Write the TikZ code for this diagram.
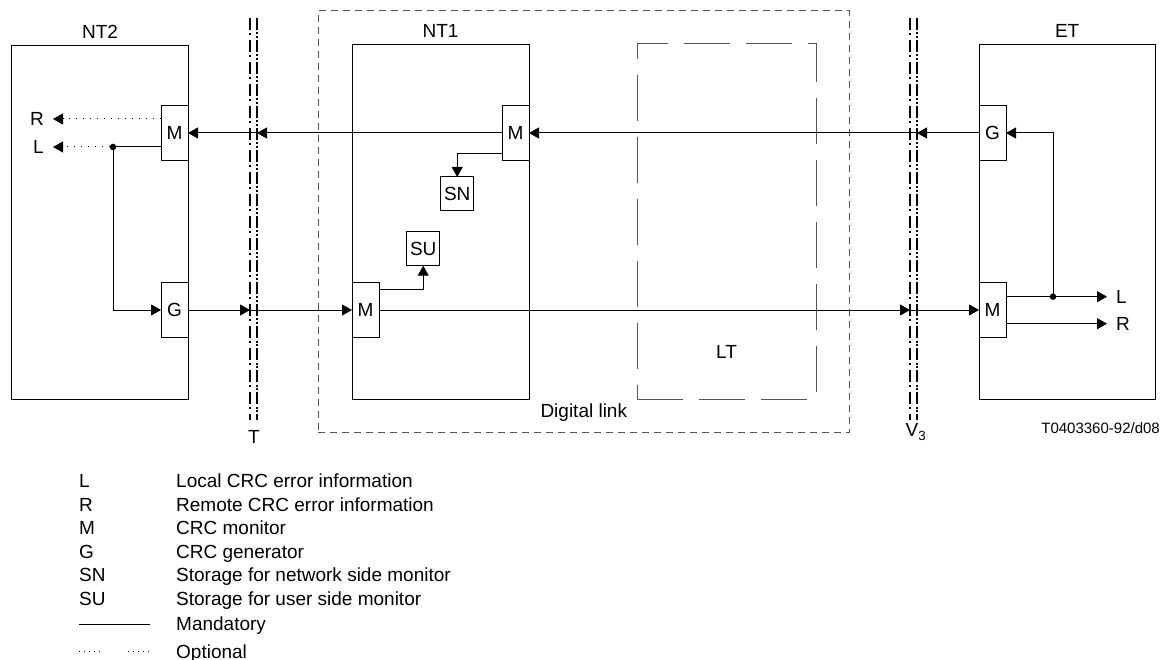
\documentclass[tikz,border=0pt]{standalone}
\usepackage{fontspec}
\setmainfont{Liberation Sans}
\usepackage{tikz}
\usetikzlibrary{arrows.meta,positioning}
\usepackage{xcolor}
\definecolor{lkgray}{RGB}{85,85,85}
\tikzstyle{line} = [line width=1pt]
\tikzstyle{arrow} = [line width=1pt,-{Triangle[length=10pt,width=11pt]}]
\tikzstyle{unit} = [draw,line width=1pt,minimum width=27pt,minimum height=55pt,inner sep=0pt,outer sep=0pt]
\tikzstyle{store} = [draw,line width=1pt,minimum width=33pt,minimum height=34pt,inner sep=0pt,outer sep=0pt]
\tikzstyle{frame} = [draw,line width=1pt,inner sep=0pt,outer sep=0pt]
\tikzstyle{optional} = [line width=1pt,dash pattern=on 1pt off 6pt]
\tikzstyle{ifaceA} = [line width=2pt,dash pattern=on 12pt off 3pt on 2pt off 5pt]
\tikzstyle{ifaceB} = [line width=2pt,dash pattern=on 12pt off 2.5pt on 2pt off 1.5pt on 2pt off 2pt]
\tikzstyle{dot} = [circle,fill,inner sep=0pt,minimum size=6.5pt]

\begin{document}
\begin{tikzpicture}[x=1pt,y=-1pt,font=\fontsize{19}{22}\selectfont]
\useasboundingbox (0,0) rectangle (1167,660);

% Equipment frames
\node[frame,minimum width=176.6pt,minimum height=353.3pt] (nt2) at (100,222.4) {};
\node[frame,minimum width=177pt,minimum height=354pt] (nt1) at (440.5,222) {};
\node[frame,minimum width=176.3pt,minimum height=354pt] (et) at (1067.2,222) {};
\node[frame,draw=lkgray,dash pattern=on 46pt off 16pt,minimum width=179pt,minimum height=355pt] (lt) at (726.5,221.5) {};
\node[frame,draw=lkgray,dash pattern=on 7pt off 5pt,minimum width=531pt,minimum height=422pt] (dlink) at (583.8,221.7) {};

% Frame labels
\node[above=7.5pt of nt2,inner sep=0pt] (nt2lbl) {NT2};
\node[above=7.5pt of nt1,inner sep=0pt] (nt1lbl) {NT1};
\node[above=7.5pt of et,inner sep=0pt] (etlbl) {ET};
\node (ltlbl) at (726.5,351.7) {LT};
\node[anchor=base] (dllbl) at (583.8,417) {Digital link};

% Interfaces T and V3
\coordinate (Tl) at (250,18);
\coordinate (Tr) at (257,18);
\coordinate (Vl) at (910,18);
\coordinate (Vr) at (917,18);
\draw[ifaceA] (Tl) -- ++(0,402);
\draw[ifaceB] (Tr) -- ++(0,402);
\draw[ifaceA] (Vl) -- ++(0,402);
\draw[ifaceB] (Vr) -- ++(0,402);
\node[anchor=base] (tlbl) at (254,443.3) {T};
\node[anchor=base] (vlbl) at (916,436.7) {V\textsubscript{3}};

% Monitors and generators
\node[unit] (mN2) at (174.5,133) {M};
\node[unit] (gN2) at (174.5,310) {G};
\node[unit] (mN1) at (515.5,133) {M};
\node[unit] (mbN1) at (365.5,310) {M};
\node[unit] (gET) at (992.5,133) {G};
\node[unit] (mET) at (992.5,310) {M};
\node[store] (sn) at (457.2,194) {SN};
\node[store] (su) at (423.2,248.7) {SU};

% Error information outputs
\node[anchor=east,inner sep=0pt] (rN2) at (44,119) {R};
\node[anchor=east,inner sep=0pt] (lN2) at (44,147) {L};
\node[anchor=west,inner sep=0pt] (lET) at (1116,296.7) {L};
\node[anchor=west,inner sep=0pt] (rET) at (1116,323.7) {R};
\node[dot] (dotN2) at (113,147) {};
\node[dot] (dotET) at (1053,296.7) {};

% Network to user direction
\draw[arrow] (mN1.west) -- (mN2.east);
\draw[arrow] (mN1.west) -- (mN1.west -| Tr);
\draw[arrow] (gET.west) -- (mN1.east);
\draw[arrow] (gET.west) -- (gET.west -| Vr);
\draw[arrow] ([yshift=-21pt]mN1.west) -| (sn.north);

% User to network direction
\draw[arrow] (gN2.east) -- (mbN1.west);
\draw[arrow] (gN2.east) -- (gN2.east -| Tl);
\draw[arrow] (mbN1.east) -- (mET.west);
\draw[arrow] (mbN1.east) -- (mbN1.east -| Vl);
\draw[arrow] ([yshift=20pt]mbN1.east) -| (su.south);

% Local and remote information
\draw[optional,-{Triangle[length=10pt,width=11pt]},shorten >=9pt] (mN2.west |- rN2) -- (rN2.east);
\draw[optional,-{Triangle[length=10pt,width=11pt]},shorten >=9pt] (dotN2) -- (lN2.east);
\draw[line] (mN2.west |- dotN2) -- (dotN2);
\draw[arrow] (dotN2.center) |- (gN2.west);
\draw[arrow,shorten >=9pt] (mET.east |- lET) -- (lET.west);
\draw[arrow,shorten >=9pt] (mET.east |- rET) -- (rET.west);
\draw[arrow] (dotET.center) |- (gET.east);

\node[anchor=base east,inner sep=0pt,font=\fontsize{15}{18}\selectfont] (figno) at (1160,433.3) {T0403360-92/d08};

% Legend
\foreach \k/\t/\yb in {L/Local CRC error information/487.7,
    R/Remote CRC error information/511.7, M/CRC monitor/534.3,
    G/CRC generator/558.3, SN/Storage for network side monitor/581.7,
    SU/Storage for user side monitor/605.7} {
  \node[anchor=base west,inner sep=0pt] (key\k) at (79,\yb) {\k};
  \node[anchor=base west,inner sep=0pt] (txt\k) at (176,\yb) {\t};
}
\draw[line] (79,624.3) -- (150,624.3);
\node[anchor=base west,inner sep=0pt] (txtman) at (176,630.7) {Mandatory};
\draw[optional,dash pattern=on 1pt off 4pt] (79,651) -- (101,651);
\draw[optional,dash pattern=on 1pt off 4pt] (128,651) -- (150,651);
\node[anchor=base west,inner sep=0pt] (txtopt) at (176,658.3) {Optional};
\end{tikzpicture}
\end{document}
